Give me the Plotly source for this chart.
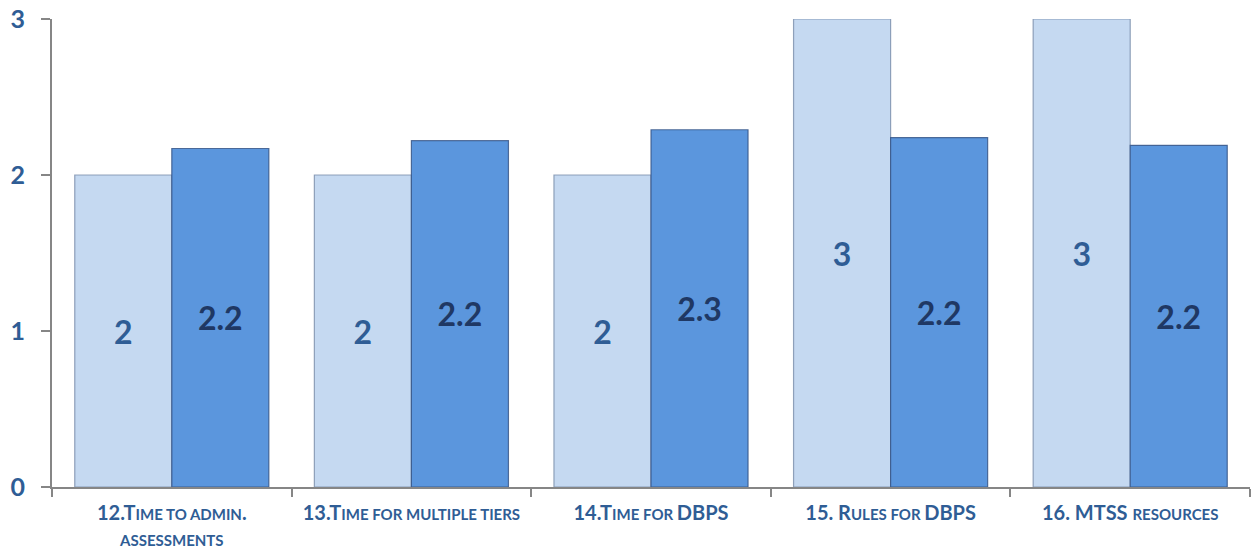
import textwrap
import plotly.graph_objects as go

categories = [
    "12.Time to admin. assessments",
    "13.Time for multiple tiers",
    "14.Time for DBPS",
    "15. Rules for DBPS",
    "16. MTSS resources",
]
series_light = [2, 2, 2, 3, 3]
series_dark = [2.17, 2.22, 2.29, 2.24, 2.19]
y_ticks = [0, 1, 2, 3]

LABEL_COLOR = "#2F5D95"
BIG = 20
SMALL = 15


def small_caps(s):
    out = []
    run = ""
    run_lower = None
    for ch in s:
        is_lower = ch.islower()
        if ch == " " and run_lower is not None:
            is_lower = run_lower
        if run_lower is None or is_lower == run_lower:
            run += ch
            run_lower = is_lower
        else:
            out.append((run, run_lower))
            run = ch
            run_lower = is_lower
    if run:
        out.append((run, run_lower))
    parts = []
    for txt, low in out:
        if low:
            parts.append(f"<span style='font-size:{SMALL}px'>{txt.upper()}</span>")
        else:
            parts.append(txt)
    return "".join(parts)


def tick_label(s):
    lines = textwrap.wrap(s, 26)
    return "<br>".join(small_caps(l) for l in lines)


ticktext = [tick_label(c) for c in categories]

fig = go.Figure()
fig.add_trace(go.Bar(
    x=categories, y=series_light,
    marker=dict(color="#C5D9F1", line=dict(color="rgba(120,140,170,0.8)", width=1.2)),
    texttemplate="%{y:.2~g}", textposition="inside", insidetextanchor="middle",
    textangle=0, constraintext="none",
    textfont=dict(family="Lato", size=32, color="#2F5D95", weight="bold"),
    hoverinfo="skip",
))
fig.add_trace(go.Bar(
    x=categories, y=series_dark,
    marker=dict(color="#5B96DD", line=dict(color="rgba(50,80,130,0.8)", width=1.2)),
    texttemplate="%{y:.2~g}", textposition="inside", insidetextanchor="middle",
    textangle=0, constraintext="none",
    textfont=dict(family="Lato", size=32, color="#1F3864", weight="bold"),
    hoverinfo="skip",
))

fig.update_layout(
    width=1251, height=550,
    margin=dict(l=52, r=1, t=19, b=63),
    paper_bgcolor="white", plot_bgcolor="white",
    barmode="group", bargap=0.19, bargroupgap=0.0,
    showlegend=False,
    font=dict(family="Lato"),
)
fig.update_yaxes(
    range=[0, 3], tickvals=y_ticks, showgrid=False, zeroline=False,
    showline=True, linecolor="#868686", linewidth=2,
    ticks="outside", ticklen=9, tickwidth=2, tickcolor="#868686",
    tickfont=dict(family="Lato", size=25, color=LABEL_COLOR, weight="bold"),
    ticklabelstandoff=11, automargin=False,
)
fig.update_xaxes(
    tickvals=categories, ticktext=ticktext, tickson="boundaries",
    showgrid=False, showline=True, linecolor="#868686", linewidth=2,
    ticks="outside", ticklen=8, tickwidth=2, tickcolor="#868686",
    tickfont=dict(family="Lato", size=BIG, color=LABEL_COLOR, weight="bold"),
    tickangle=0, automargin=False, ticklabelstandoff=7,
)

fig.write_html(
    "out.html",
    config={"displayModeBar": False},
    post_script="document.body.style.margin='0';document.body.style.overflow='hidden';",
)
